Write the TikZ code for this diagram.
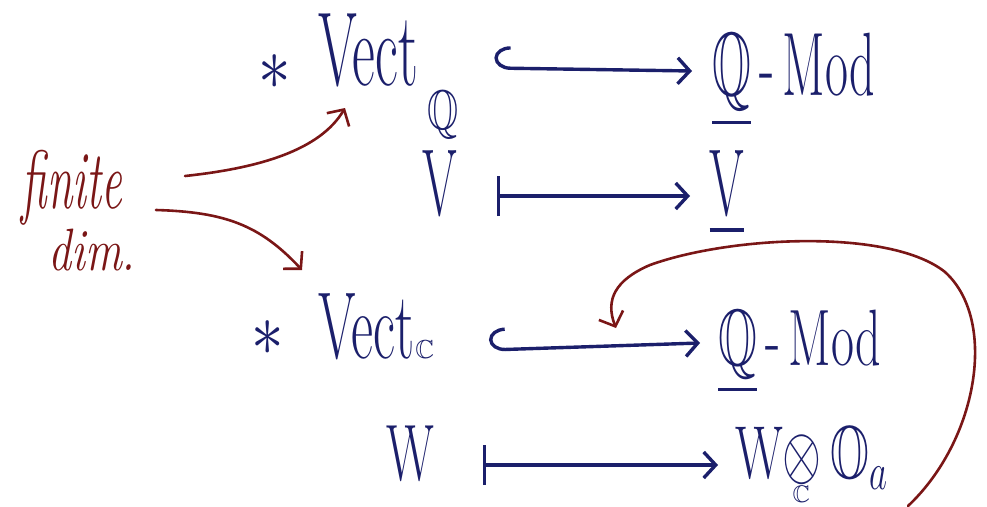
\RequirePackage{fix-cm}
\documentclass[tikz,border=0pt]{standalone}
\usepackage{amsmath,amssymb}
\usetikzlibrary{arrows.meta}
\definecolor{ink}{HTML}{1B1F6B}
\definecolor{rink}{HTML}{7A1616}
\newcommand{\hw}[2][2]{\scalebox{1}[#1]{#2}}
\tikzset{
  lbl/.style={text=ink, inner sep=0pt, font=\fontsize{50}{50}\selectfont},
  rlbl/.style={text=rink, inner sep=0pt, font=\fontsize{46}{46}\selectfont\itshape},
  bluearrow/.style={draw=ink, line width=3.4pt, line cap=round},
  hookarrow/.style={bluearrow, {Hooks[arc=180,length=16pt,width=44pt,right]}-{Straight Barb[length=12pt,width=26pt]}},
  mapsarrow/.style={bluearrow, {Bar[width=40pt]}-{Straight Barb[length=12pt,width=26pt]}},
  redarrow/.style={draw=rink, line width=2.6pt, line cap=round, -{Straight Barb[length=12pt,width=26pt]}}
}
\begin{document}
\begin{tikzpicture}[x=1pt,y=-1pt]
\useasboundingbox (0,0) rectangle (987,506);
% left label
\node[rlbl, anchor=base] (fin) at (72,208) {\hw[1.8]{finite}};
\node[rlbl, anchor=base] (dim) at (92,270) {\hw[1.3]{dim.}};
% top block
\node[lbl] (s1) at (275,72) {\scalebox{1.3}[1.5]{$\ast$}};
\node[lbl, anchor=base west] (vq) at (318,85) {\scalebox{1.12}[2.1]{Vect}\kern10pt\raisebox{-44pt}{\fontsize{40}{40}\selectfont\hw[1.4]{$\mathbb{Q}$}}};
\node[lbl, anchor=base west] (mq) at (712,95) {\hw[1.8]{$\underline{\mathbb{Q}}$\,-\,Mod}};
\node[lbl, anchor=base] (v) at (440,215) {\hw[1.9]{V}};
\node[lbl, anchor=base] (vu) at (727,215) {\hw[1.9]{\underline{V}}};
% bottom block
\node[lbl] (s2) at (268,338) {\scalebox{1.3}[1.5]{$\ast$}};
\node[lbl, anchor=base west] (vc) at (318,358) {\scalebox{1.08}[1.9]{Vect}\kern1pt{\fontsize{26}{26}\selectfont$\mathbb{C}$}};
\node[lbl, anchor=base west] (mc) at (718,365) {\hw[1.6]{$\underline{\mathbb{Q}}$\,-\,Mod}};
\node[lbl, anchor=base] (w) at (410,480) {\hw[1.6]{W}};
\node[lbl, anchor=base west] (wo) at (735,478) {\hw[1.5]{W$\otimes$}\llap{\raisebox{-24pt}{\fontsize{24}{24}\selectfont$\mathbb{C}$}\kern12pt}\,\hw[1.5]{$\mathbb{O}_{a}$}};
% blue arrows
\draw[hookarrow] ([xshift=35pt,yshift=17pt]vq.base east) -- ([xshift=-20pt,yshift=24pt]mq.base west);
\draw[mapsarrow] ([xshift=57pt,yshift=19pt]v.base) -- ([xshift=-37pt,yshift=19pt]vu.base);
\draw[hookarrow] ([xshift=55pt,yshift=8pt]vc.base east) -- ([xshift=-18pt,yshift=22pt]mc.base west);
\draw[mapsarrow] ([xshift=73pt,yshift=15pt]w.base) -- ([xshift=-17pt,yshift=13pt]wo.base west);
% red arrows
\coordinate (r1s) at (185,176);
\coordinate (r1e) at (345,108);
\coordinate (r2s) at (156,210);
\coordinate (r2e) at (302,270);
\draw[redarrow] (r1s) .. controls (260,168) and (320,150) .. (r1e);
\draw[redarrow] (r2s) .. controls (225,212) and (260,225) .. (r2e);
\coordinate (r3s) at (908,506);
\coordinate (r3e) at (616,328);
\draw[redarrow] (r3s) .. controls (978,440) and (998,320) .. (945,272)
   .. controls (890,228) and (730,236) .. (650,265)
   .. controls (615,280) and (605,300) .. (r3e);
\end{tikzpicture}
\end{document}
